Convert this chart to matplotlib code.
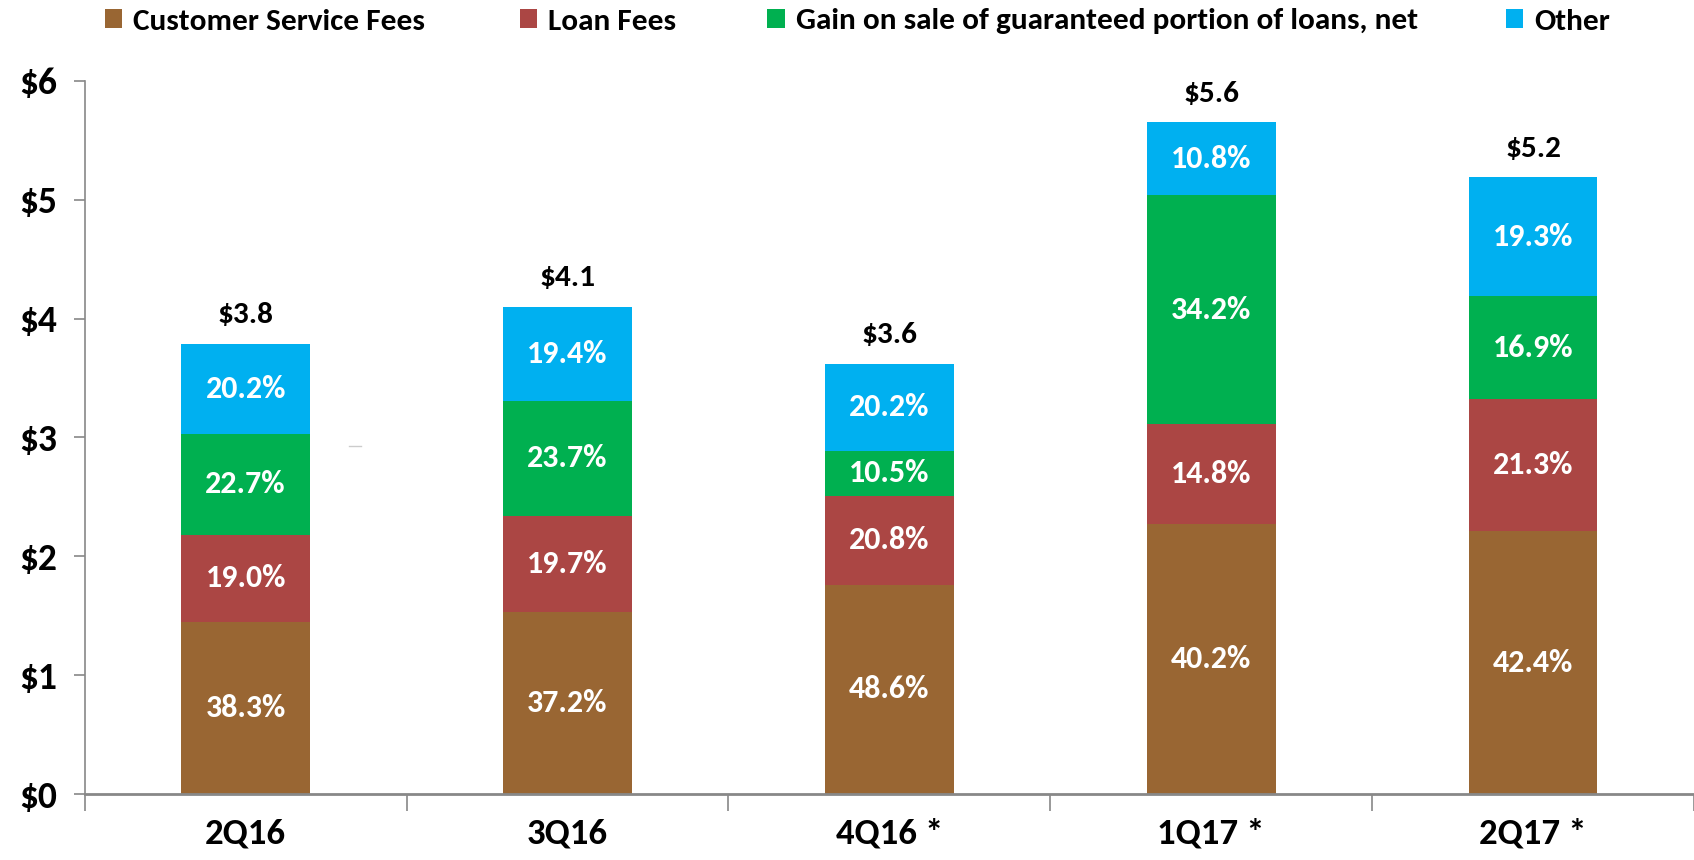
import numpy as np
import matplotlib.pyplot as plt
from matplotlib import font_manager

quarters = ["2Q16", "3Q16", "4Q16 *", "1Q17 *", "2Q17 *"]
series_names = ["Customer Service Fees", "Loan Fees",
                "Gain on sale of guaranteed portion of loans, net", "Other"]

# segment heights ($M)
customer_fees = [1.45, 1.53, 1.76, 2.27, 2.21]
loan_fees = [0.73, 0.81, 0.75, 0.84, 1.11]
gain_on_sale = [0.85, 0.97, 0.38, 1.93, 0.87]
other = [0.76, 0.79, 0.73, 0.61, 1.00]

pct_customer = ["38.3%", "37.2%", "48.6%", "40.2%", "42.4%"]
pct_loan = ["19.0%", "19.7%", "20.8%", "14.8%", "21.3%"]
pct_gain = ["22.7%", "23.7%", "10.5%", "34.2%", "16.9%"]
pct_other = ["20.2%", "19.4%", "20.2%", "10.8%", "19.3%"]

total_labels = ["$3.8", "$4.1", "$3.6", "$5.6", "$5.2"]
y_ticks = [0, 1, 2, 3, 4, 5, 6]

colors = ["#996633", "#AB4644", "#00B050", "#00B0F0"]

available = {f.name for f in font_manager.fontManager.ttflist}
family = "DejaVu Sans"
for cand in ["Carlito", "Roboto Condensed", "Open Sans Condensed", "Liberation Sans Narrow", "Roboto"]:
    if cand in available:
        family = cand
        break
plt.rcParams["font.family"] = [family, "DejaVu Sans"]
plt.rcParams["font.weight"] = "bold"


def main():
    fig = plt.figure(figsize=(16.94, 8.6), dpi=100)
    ax = fig.add_axes([0.050, 0.0767, 0.950, 0.8293])

    x = np.arange(len(quarters))
    series = [customer_fees, loan_fees, gain_on_sale, other]
    pcts = [pct_customer, pct_loan, pct_gain, pct_other]

    bottom = np.zeros(len(quarters))
    handles = []
    for vals, pct, col, name in zip(series, pcts, colors, series_names):
        vals = np.array(vals)
        h = ax.bar(x, vals, width=0.40, bottom=bottom, color=col, label=name, zorder=2)
        handles.append(h)
        for xi, b, v, p in zip(x, bottom, vals, pct):
            ax.text(xi, b + v / 2, p, ha="center", va="center", color="white",
                    fontsize=23, fontweight="bold")
        bottom = bottom + vals

    for xi, top, lab in zip(x, bottom, total_labels):
        ax.text(xi, top + 0.13, lab, ha="center", va="bottom", color="black",
                fontsize=22.5, fontweight="bold")

    # stray dash present in the original slide
    ax.plot([0.32, 0.36], [2.93, 2.93], color="#cccccc", lw=1)

    ax.set_xlim(-0.5, len(quarters) - 0.5)
    ax.set_ylim(0, 6)
    ax.set_yticks(y_ticks)
    ax.set_yticklabels(["$%d" % t for t in y_ticks], fontsize=27, fontweight="bold")
    ax.set_xticks(x)
    ax.set_xticklabels(quarters, fontsize=26.5, fontweight="bold")
    ax.tick_params(axis="x", length=0, pad=17)
    ax.set_xticks(np.arange(len(quarters) + 1) - 0.5, minor=True)
    ax.tick_params(axis="x", which="minor", length=12, color="#888888", width=1.2)
    ax.tick_params(axis="y", length=8, color="#888888", width=1.2, pad=12)

    for s in ["top", "right"]:
        ax.spines[s].set_visible(False)
    ax.spines["left"].set_color("#888888")
    ax.spines["bottom"].set_color("#888888")
    ax.spines["left"].set_linewidth(1.2)
    ax.spines["bottom"].set_linewidth(2)

    # legend entries placed one by one across the top
    legend_x = [0.062, 0.307, 0.453, 0.889]
    for h, name, lx in zip(handles, series_names, legend_x):
        fig.legend(handles=[h], labels=[name], loc="center left",
                   bbox_to_anchor=(lx, 0.975), frameon=False,
                   handlelength=0.55, handleheight=0.55, handletextpad=0.35,
                   borderaxespad=0, borderpad=0,
                   prop={"weight": "bold", "size": 22.5})

    fig.savefig("out.png", dpi=100)


if __name__ == '__main__':
    main()
